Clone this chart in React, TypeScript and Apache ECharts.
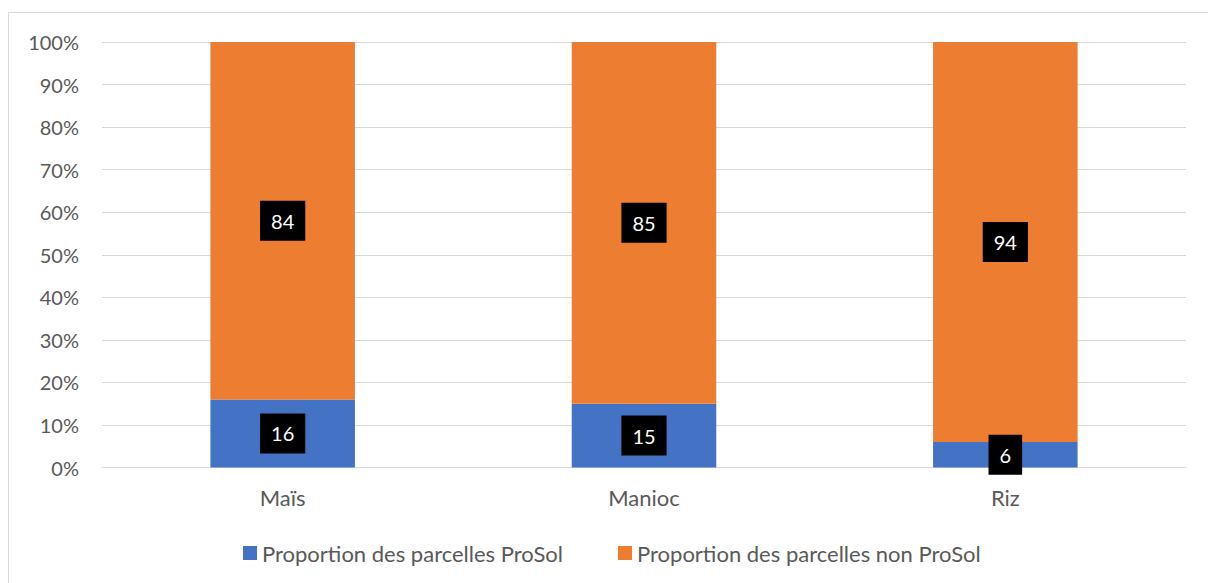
import React, { useEffect, useRef } from "react";
import * as echarts from "echarts";

const categories = ["Maïs", "Manioc", "Riz"];
const prosolValues = [16, 15, 6];
const nonProsolValues = [84, 85, 94];
const seriesNames = ["Proportion des parcelles ProSol", "Proportion des parcelles non ProSol"];

const FONT = "Lato, 'Noto Sans', sans-serif";

export default function App() {
  const ref = useRef<HTMLDivElement>(null);
  useEffect(() => {
    document.body.style.margin = "0";
    const chart = echarts.init(ref.current!, null, { renderer: "svg" });
    const label = {
      show: true,
      position: "inside",
      backgroundColor: "#000000",
      color: "#ffffff",
      fontSize: 20,
      fontFamily: FONT,
      lineHeight: 20,
      padding: [10, 11, 10, 11],
    };
    chart.setOption({
      animation: false,
      textStyle: { fontFamily: FONT },
      graphic: [
        {
          type: "rect",
          shape: { x: 8.5, y: 12.5, width: 1400, height: 800 },
          style: { fill: "none", stroke: "#d9d9d9", lineWidth: 1 },
          silent: true,
          z: -10,
        },
      ],
      grid: { left: 102, right: 22, top: 42, bottom: 115.5, containLabel: false },
      legend: {
        left: 243,
        top: 542,
        padding: 0,
        itemWidth: 14,
        itemHeight: 14,
        itemGap: 55,
        icon: "rect",
        textStyle: { color: "#595959", fontSize: 22, fontFamily: FONT },
        data: seriesNames,
      },
      xAxis: {
        type: "category",
        data: categories,
        axisLine: { lineStyle: { color: "#d9d9d9", width: 1 } },
        axisTick: { show: false },
        axisLabel: { color: "#595959", fontSize: 22, margin: 19, fontFamily: FONT },
      },
      yAxis: {
        type: "value",
        min: 0,
        max: 100,
        interval: 10,
        axisLine: { show: false },
        axisTick: { show: false },
        axisLabel: { color: "#595959", fontSize: 20, margin: 23, formatter: "{value}%", fontFamily: FONT },
        splitLine: { lineStyle: { color: "#d9d9d9", width: 1 } },
      },
      series: [
        {
          name: seriesNames[0],
          type: "bar",
          stack: "total",
          barWidth: "40%",
          data: prosolValues,
          itemStyle: { color: "#4472C4" },
          label,
        },
        {
          name: seriesNames[1],
          type: "bar",
          stack: "total",
          barWidth: "40%",
          data: nonProsolValues,
          itemStyle: { color: "#ED7D31" },
          label,
        },
      ],
    });
    return () => chart.dispose();
  }, []);
  return <div ref={ref} style={{ width: 1208, height: 583 }} />;
}
